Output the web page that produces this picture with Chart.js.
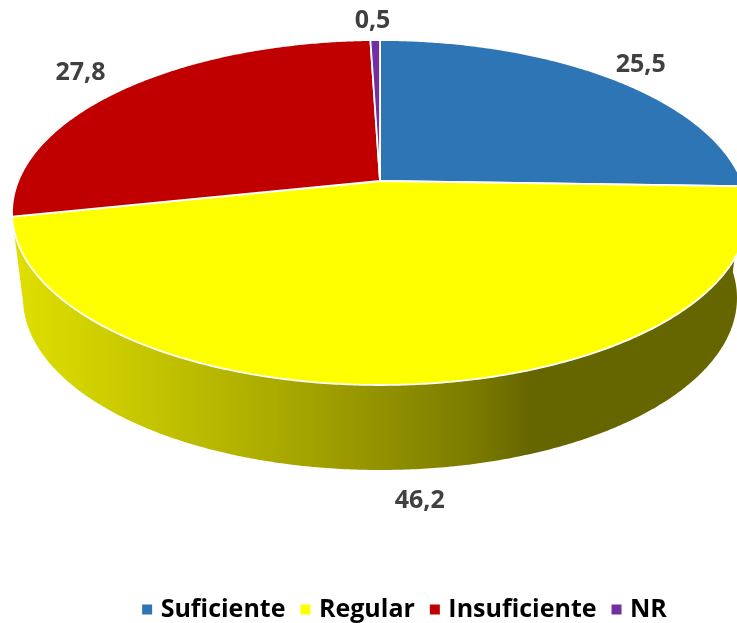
<!DOCTYPE html>
<html><head><meta charset="utf-8">
<style>html,body{margin:0;padding:0;background:#fff;overflow:hidden}canvas{display:block}</style>
<script src="https://cdn.jsdelivr.net/npm/chart.js@4"></script></head>
<body><canvas id="c" width="737" height="623"></canvas>
<script>
const categories = ["Suficiente","Regular","Insuficiente","NR"];
const values = [25.5,46.2,27.8,0.5];
const sliceColors = ["#2E75B6","#FFFF00","#C00000","#7030A0"];

// Tilted-disc projection of the pie's angles (a perspective view of a flat disc)
const view = {cx:380, cy:181, d:361.8, a:133.7, c:-0.1826, rimCy:212.5,
  sideRx:357/368, sideCy:298, sideRy:172/172.5, depthDrop:86};
const labelRadial = [1.15,1.12,1.195,1.165];
const labelNudgeX = [0,-5,0,-2];
const sideStops = [[0,"#DEDE00"],[0.16,"#C8C800"],[0.40,"#A3A300"],[0.62,"#7D7D00"],[0.71,"#666600"],[1,"#666600"]];
const FONT = "'Open Sans'";

function project(angle, r){
  const u = Math.cos(angle)*r, v = Math.sin(angle)*r;
  const w = 1 + view.c*v;
  return {x:view.cx + view.d*u/w, y:(view.a*v + view.cy)/w};
}
function lower(p){
  return {x:view.cx+(p.x-view.cx)*view.sideRx, y:view.sideCy+(p.y-view.rimCy)*view.sideRy};
}
function rim(a0,a1){
  const n = Math.max(2,Math.ceil(Math.abs(a1-a0)*120)), pts=[];
  for(let i=0;i<=n;i++) pts.push(project(a0+(a1-a0)*i/n,1));
  return pts;
}
const pie3d = {
  id:"pie3d",
  beforeDatasetsDraw(chart){
    const ctx = chart.ctx, arcs = chart.getDatasetMeta(0).data;
    arcs.forEach(el=>{
      const mid=(el.startAngle+el.endAngle)/2;
      if(Math.sin(mid)<=0.5) return;
      const top=rim(el.startAngle,el.endAngle), bot=top.map(lower).reverse();
      const g=ctx.createLinearGradient(view.cx-360,0,view.cx+360,0);
      sideStops.forEach(s=>g.addColorStop(s[0],s[1]));
      ctx.beginPath();
      top.concat(bot).forEach((p,i)=>i?ctx.lineTo(p.x,p.y):ctx.moveTo(p.x,p.y));
      ctx.closePath(); ctx.fillStyle=g; ctx.fill();
    });
    arcs.forEach(el=>{
      const apex=project(0,0);
      ctx.beginPath(); ctx.moveTo(apex.x,apex.y);
      rim(el.startAngle,el.endAngle).forEach(p=>ctx.lineTo(p.x,p.y));
      ctx.closePath();
      ctx.fillStyle=el.options.backgroundColor; ctx.fill();
      ctx.strokeStyle="#fff"; ctx.lineWidth=1.8; ctx.lineJoin="round"; ctx.stroke();
    });
    ctx.fillStyle="#404040"; ctx.font="bold 25px "+FONT;
    ctx.textAlign="center"; ctx.textBaseline="middle";
    arcs.forEach((el,i)=>{
      const mid=(el.startAngle+el.endAngle)/2;
      const p=project(mid,labelRadial[i]);
      const y=Math.sin(mid)>0.5?p.y+view.depthDrop:p.y;
      ctx.fillText(String(values[i]).replace(".",","),p.x+labelNudgeX[i],y);
    });
    return false;
  },
  afterLayout(chart){ const l=chart.legend; l.left+=38; l.right+=38; l.top+=11; l.bottom+=11; }
};
new Chart(document.getElementById("c"),{
  type:"pie",
  data:{labels:categories,datasets:[{data:values,backgroundColor:sliceColors,borderColor:"#fff"}]},
  options:{responsive:false,animation:false,
    layout:{padding:{bottom:2}},
    plugins:{tooltip:{enabled:false},
      legend:{position:"bottom",
        labels:{usePointStyle:true,pointStyle:"rect",boxWidth:2,boxHeight:12,padding:19,color:"#000",
          font:{family:FONT,weight:"bold",size:25}}}}},
  plugins:[pie3d]
});
</script></body></html>
